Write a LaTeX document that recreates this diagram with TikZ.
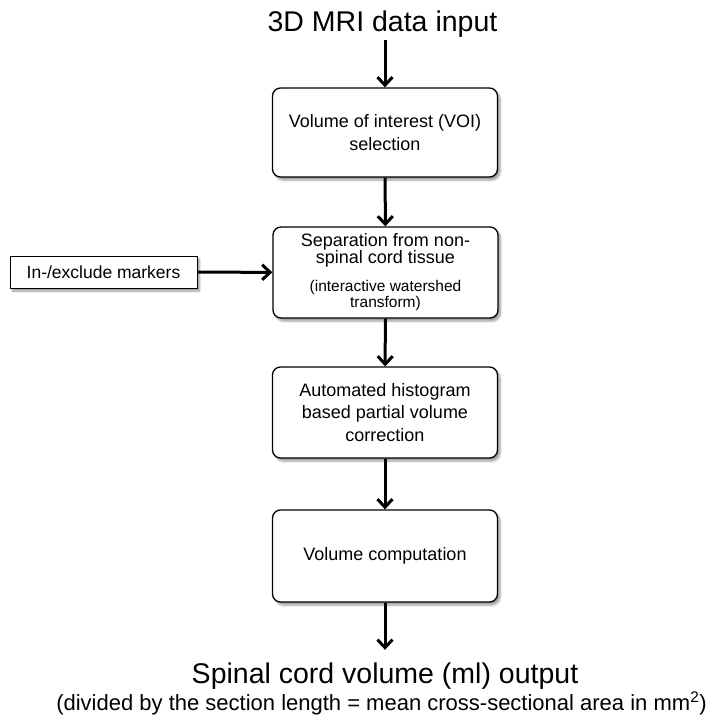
\documentclass[tikz,border=0pt]{standalone}
\usepackage{fontspec}
\setmainfont{Liberation Sans}
\usetikzlibrary{arrows.meta,shadows.blur}

\tikzset{
  stage/.style={draw,fill=white,rounded corners=8pt,line width=1.3pt,
    minimum width=225pt,align=center,font=\fontsize{18}{22.5}\selectfont,
    blur shadow={shadow xshift=2.5pt,shadow yshift=-3pt,shadow blur steps=6}},
  marker/.style={draw,fill=white,line width=1pt,minimum width=187pt,
    minimum height=32pt,font=\fontsize{17.5}{20}\selectfont,
    blur shadow={shadow xshift=2.5pt,shadow yshift=-3pt,shadow blur steps=6}},
  flow/.style={line width=3pt,-{Straight Barb[length=8pt,width=15pt]}}
}

\begin{document}
\begin{tikzpicture}[x=1pt,y=-1pt]
    \useasboundingbox (0,0) rectangle (715,716);

    \node (input) at (382.5,31) [anchor=base,font=\fontsize{28.5}{32}\selectfont] {3D MRI data input};

    \node (voi) at (385,132.5) [stage,minimum height=89pt] {Volume of interest (VOI)\\selection};
    \node (sep) at (385.5,272.5) [stage,minimum height=91pt]
      {\parbox{215pt}{\centering\fontsize{18}{17}\selectfont Separation from non-\\spinal cord tissue\par
       \vspace{11pt}\fontsize{15.5}{16.5}\selectfont (interactive watershed\\transform)\par}};
    \node (pvc) at (385,412.5) [stage,minimum height=91pt] {Automated histogram\\based partial volume\\correction};
    \node (comp) at (385,556) [stage,minimum height=92pt] {Volume computation};

    \node (markers) at (103.5,272) [marker] {In-/exclude markers};

    \node (output) at (385,683) [anchor=base,font=\fontsize{28.5}{32}\selectfont] {Spinal cord volume (ml) output};
    \node (note) at (381.5,710) [anchor=base,font=\fontsize{22}{26}\selectfont]
      {(divided by the section length = mean cross-sectional area in mm\textsuperscript{2})};

    \draw[flow] (input.south -| voi.north) -- (voi.north);
    \draw[flow] (voi) -- (sep);
    \draw[flow] (sep) -- (pvc);
    \draw[flow] (pvc) -- (comp);
    \draw[flow,shorten >=9pt] (comp.south) -- (comp.south |- output.north);
    \draw[flow] (markers) -- (sep);
\end{tikzpicture}
\end{document}
